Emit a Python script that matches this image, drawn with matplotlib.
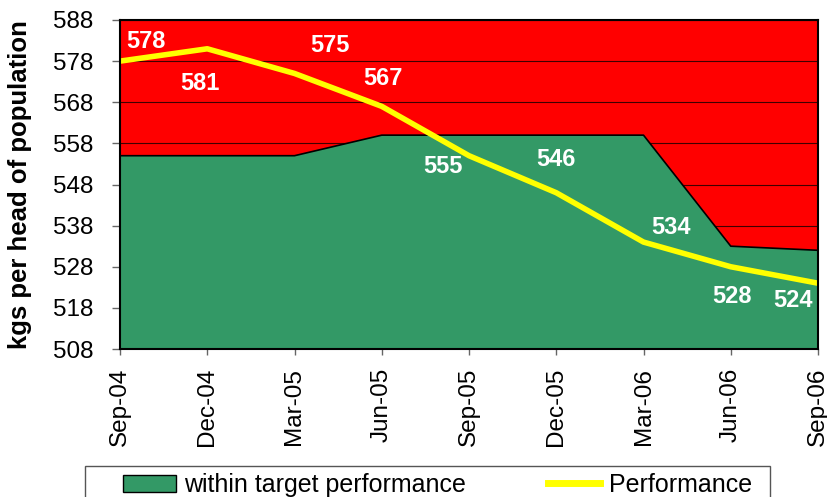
import matplotlib
matplotlib.use("Agg")
import matplotlib.pyplot as plt
from matplotlib.patches import Patch, Rectangle
from matplotlib.lines import Line2D

categories = ["Sep-04", "Dec-04", "Mar-05", "Jun-05", "Sep-05", "Dec-05", "Mar-06", "Jun-06", "Sep-06"]
within_target = [555, 555, 555, 560, 560, 560, 560, 533, 532]
performance = [578, 581, 575, 567, 555, 546, 534, 528, 524]
y_ticks = [508, 518, 528, 538, 548, 558, 568, 578, 588]

label_offsets = [(26, 20), (-7, -35), (35, 28), (1, 28), (-26, -11), (0, 33), (27, 15), (1, -30), (-25, -17)]

plt.rcParams['font.family'] = ['Liberation Sans', 'DejaVu Sans']

fig = plt.figure(figsize=(8.27, 4.97), dpi=100)
ax = fig.add_axes([120/827, 1-349/497, (818-120)/827, (349-20)/497])

x = list(range(len(categories)))
ax.set_facecolor('#FF0000')
ax.set_xlim(0, len(categories)-1)
ax.set_ylim(y_ticks[0], y_ticks[-1])
ax.set_yticks(y_ticks)
ax.set_xticks(x)
ax.set_xticklabels(categories, rotation=90, fontsize=17.5)
ax.tick_params(axis='y', labelsize=17.5, direction='out', length=5.8, width=1, color='#666666', pad=13.5)
ax.tick_params(axis='x', direction='out', length=4.5, width=1, color='#666666', pad=9)
ax.grid(axis='y', color='#400000', lw=0.8, zorder=0.5)
ax.set_axisbelow(True)

ax.fill_between(x, y_ticks[0], within_target, facecolor='#339966', edgecolor='none', zorder=2)
ax.plot(x, within_target, color='black', lw=1.2, zorder=2.5)
ax.plot(x, performance, color='#FFFF00', lw=4, zorder=3, solid_capstyle='round')

for xi, v, off in zip(x, performance, label_offsets):
    ax.annotate(str(v), (xi, v), xytext=off, textcoords='offset pixels',
                ha='center', va='center', color='white', fontsize=17, fontweight='bold', zorder=4)

for s in ax.spines.values():
    s.set_color('black')
    s.set_linewidth(1.5)
    s.set_zorder(5)

ax.set_ylabel('kgs per head of population', fontsize=18.5, fontweight='bold')
ax.yaxis.set_label_coords(-0.126, 0.5)

handles = [Patch(facecolor='#339966', edgecolor='black', label='within target performance'),
           Line2D([], [], color='#FFFF00', lw=5, label='Performance')]
leg = fig.legend(handles=handles, loc='center left',
                 bbox_to_anchor=(123/827, 1-485/497-0.05, (752-123)/827, 0.1),
                 mode='expand', ncol=2, fontsize=18, frameon=False,
                 borderaxespad=0, borderpad=0, handlelength=2.1, handleheight=0.65,
                 handletextpad=0.35)

fig.patches.append(Rectangle((85/827, -0.1), (770-85)/827, 0.1 + 1-466/497,
                             transform=fig.transFigure, facecolor='none',
                             edgecolor='#555555', lw=1))

fig.savefig('out.png', dpi=100)
